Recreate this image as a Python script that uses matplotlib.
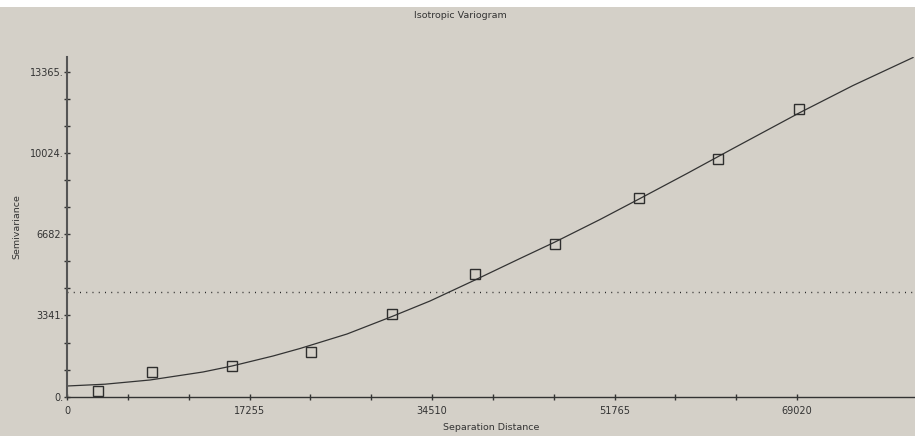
"""Isotropic variogram: experimental semivariance with fitted model curve."""

import matplotlib

matplotlib.use("Agg")

import matplotlib.pyplot as plt
from matplotlib.patches import Rectangle
from matplotlib.ticker import FixedLocator

# experimental variogram (lag distance, semivariance)
lag_distance = [2959, 8065, 15572, 23040, 30727, 38574, 46138, 54108, 61577, 69207]
semivariance = [234, 1028, 1275, 1850, 3413, 5058, 6291, 8183, 9786, 11830]

# fitted model, sampled along the curve
model_distance = [0, 3593, 7847, 12858, 15600, 19476, 22029, 26473, 30727, 34320,
                  38574, 42829, 46138, 50392, 54174, 58618, 62967, 69301, 74312,
                  79985]
model_value = [440, 514, 687, 1016, 1262, 1673, 1982, 2578, 3298, 3935,
               4799, 5683, 6361, 7286, 8150, 9178, 10206, 11686, 12796,
               13947]

sample_variance = 4317

x_ticks = [0, 17255, 34510, 51765, 69020]
x_tick_labels = ["0", "17255", "34510", "51765", "69020"]
y_ticks = [0, 3341, 6682, 10024, 13365]
y_tick_labels = ["0.", "3341.", "6682.", "10024.", "13365."]

BG = "#d4d0c8"
INK = "#2e2e2e"
TEXT = "#333333"

plt.rcParams["font.family"] = ["DejaVu Sans"]


def thirds(ticks):
    out = []
    for a, b in zip(ticks[:-1], ticks[1:]):
        step = (b - a) / 3
        out += [a + step, a + 2 * step]
    return out


fig = plt.figure(figsize=(9.15, 4.36), dpi=100, facecolor=BG)
fig.patches.append(Rectangle((0, 1 - 7 / 436), 1, 7 / 436, transform=fig.transFigure,
                             facecolor="white", edgecolor="none", zorder=-1))
ax = fig.add_axes([67 / 915, 39.3 / 436, 848 / 915, 339.7 / 436])
ax.set_facecolor(BG)

ax.axhline(sample_variance, color="#222222", linewidth=1.0,
           linestyle=(0, (0.7, 3.8)), zorder=1)
ax.plot(model_distance, model_value, color="#333333", linewidth=0.9, zorder=2)
ax.plot(lag_distance, semivariance, linestyle="None", marker="s", markersize=7,
        markerfacecolor="none", markeredgecolor=INK, markeredgewidth=1.0, zorder=3)

ax.set_xlim(0, 80170)
ax.set_ylim(0, 13968)

ax.xaxis.set_major_locator(FixedLocator(x_ticks))
ax.xaxis.set_minor_locator(FixedLocator(thirds(x_ticks)))
ax.set_xticklabels(x_tick_labels)
ax.yaxis.set_major_locator(FixedLocator(y_ticks))
ax.yaxis.set_minor_locator(FixedLocator(thirds(y_ticks)))
ax.set_yticklabels(y_tick_labels)

for side in ["top", "right"]:
    ax.spines[side].set_visible(False)
ax.spines["left"].set_color("#555555")
ax.spines["left"].set_linewidth(1.5)
ax.spines["bottom"].set_color("#333333")
ax.spines["bottom"].set_linewidth(1.0)

ax.tick_params(which="both", direction="inout", length=5, width=1.0,
               color="#333333", labelsize=7, labelcolor=TEXT)
ax.tick_params(axis="y", pad=0)
ax.tick_params(axis="x", pad=4)

ax.set_xlabel("Separation Distance", fontsize=6.8, color=TEXT, labelpad=5)
ax.set_ylabel("Semivariance", fontsize=6.8, color=TEXT, labelpad=6)
fig.text(460 / 915, 1 - 16 / 436, "Isotropic Variogram", ha="center", va="center",
         fontsize=6.8, color=TEXT)

fig.savefig("out.png", dpi=100, facecolor=BG)
